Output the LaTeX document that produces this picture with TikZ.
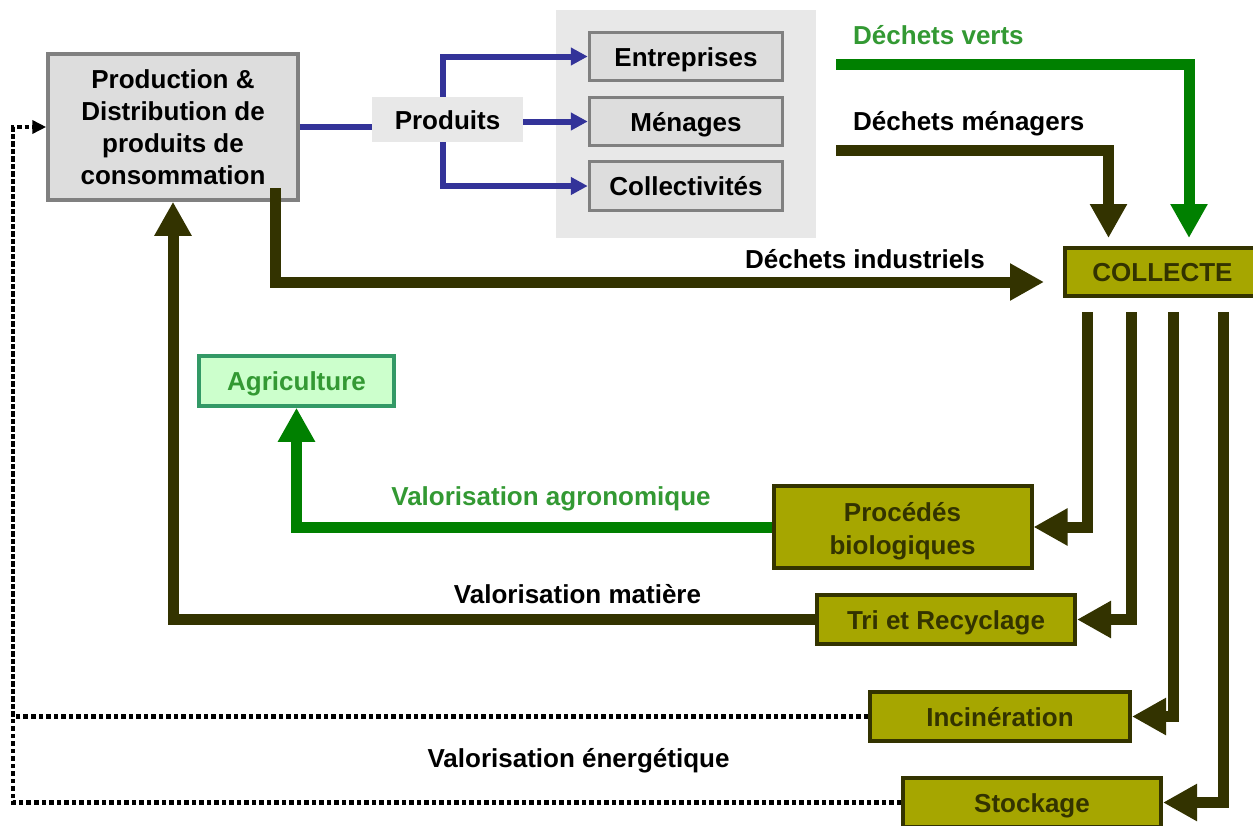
\documentclass[tikz,border=0pt]{standalone}
\usepackage{fontspec}
\setmainfont{Liberation Sans}
\usetikzlibrary{arrows.meta}
\definecolor{olv}{HTML}{333300}
\definecolor{olvfill}{HTML}{A6A600}
\definecolor{grn}{HTML}{008000}
\definecolor{grntxt}{HTML}{339933}
\definecolor{agrfill}{HTML}{CCFFCC}
\definecolor{agrdraw}{HTML}{339966}
\definecolor{blu}{HTML}{333399}
\definecolor{bxfill}{HTML}{DDDDDD}
\definecolor{bxdraw}{HTML}{808080}
\definecolor{bgfill}{HTML}{E8E8E8}
\begin{document}
\begin{tikzpicture}[x=1pt,y=-1pt,
  txt/.style={font=\fontsize{26}{31}\selectfont\bfseries, inner sep=0pt},
  one/.style={text height=19pt, text depth=0pt},
  gbox/.style={txt, draw=bxdraw, fill=bxfill, line width=3.5pt, align=center},
  obox/.style={txt, draw=olv, fill=olvfill, text=olv, line width=4pt, align=center},
  oarr/.style={draw=olv, line width=11pt, -{Triangle[width=35pt,length=34pt]}},
  garr/.style={draw=grn, line width=11pt, -{Triangle[width=35pt,length=34pt]}},
  barr/.style={draw=blu, line width=6pt, -{Triangle[width=17pt,length=17pt]}},
  bline/.style={draw=blu, line width=6pt},
  dotl/.style={draw=black, line width=4.5pt, dash pattern=on 4.5pt off 3pt},
  lbl/.style={txt, one}]
\useasboundingbox (0,0) rectangle (1253,825);
% background region
\node[fill=bgfill, minimum width=260pt, minimum height=228pt, inner sep=0pt] (bg) at (686,124) {};
% nodes
\node[gbox, minimum width=250pt, minimum height=146pt, font=\fontsize{26}{32}\selectfont\bfseries] (prod) at (173,127) {Production \&\\Distribution de\\produits de\\consommation};
\node[txt, one, fill=bgfill, minimum width=151pt, minimum height=45pt] (prd) at (447.5,119.5) {Produits};
\node[gbox, one, minimum width=193pt, minimum height=48pt] (ent) at (686,56.5) {Entreprises};
\node[gbox, one, minimum width=193pt, minimum height=48pt] (men) at (686,121.5) {Ménages};
\node[gbox, one, minimum width=193pt, minimum height=49pt] (clv) at (686,186) {Collectivités};
\node[obox, one, minimum width=195pt, minimum height=48pt] (col) at (1162.5,272) {COLLECTE};
\node[obox, minimum width=258pt, minimum height=82pt, font=\fontsize{26}{33}\selectfont\bfseries] (pb) at (902.5,527) {\raisebox{-4pt}[\height][\depth]{\begin{tabular}{@{}c@{}}Procédés\\biologiques\end{tabular}}};
\node[obox, one, minimum width=258pt, minimum height=49pt] (tri) at (946,619.5) {Tri et Recyclage};
\node[obox, one, minimum width=260pt, minimum height=49pt] (inc) at (1000,716.5) {Incinération};
\node[obox, one, minimum width=258pt, minimum height=49pt] (stk) at (1032,802.5) {Stockage};
\node[txt, one, draw=agrdraw, fill=agrfill, text=grntxt, line width=3.5pt, minimum width=195pt, minimum height=50pt] (agr) at (296.5,381) {Agriculture};
% labels
\node[lbl, text=grntxt, anchor=west] (ldv) at (853,35) {Déchets verts};
\node[lbl, anchor=west] (ldm) at (853,121) {Déchets ménagers};
\node[lbl] (ldi) at (865,259) {Déchets industriels};
\node[lbl, text=grntxt] (lva) at (551,496) {Valorisation agronomique};
\node[lbl] (lvm) at (577.5,594) {Valorisation matière};
\node[lbl] (lve) at (578.5,758) {Valorisation énergétique};
% coordinates
\coordinate (dvs) at (836,64);
\coordinate (dms) at (836,150);
\coordinate (vx) at (1189,0);
\coordinate (mx) at (1108.5,0);
\coordinate (dix) at (275.5,188);
\coordinate (diy) at (0,282);
\coordinate (c1) at (1087,312);
\coordinate (c2) at (1131,312);
\coordinate (c3) at (1173,312);
\coordinate (c4) at (1223,312);
\coordinate (ex) at (13,127);
\coordinate (bx) at (443,0);
% blue connectors
\draw[bline] (prod.east) -- (prd.west |- prod.east);
\draw[barr] (prd.north -| bx) |- (ent.west);
\draw[barr] (prd.east |- men.west) -- (men.west);
\draw[barr] (prd.south -| bx) |- (clv.west);
% waste flows
\draw[garr, shorten >=8pt] (dvs) -| (col.north -| vx);
\draw[oarr, shorten >=8pt] (dms) -| (col.north -| mx);
\draw[oarr, shorten >=19pt] (dix) |- (col.west |- diy);
\draw[oarr] (c1) |- (pb.east);
\draw[oarr] (c2) |- (tri.east);
\draw[oarr] (c3) |- (inc.east);
\draw[oarr] (c4) |- (stk.east);
\draw[garr] (pb.west) -| (agr.south);
\draw[oarr] (tri.west) -| (prod.south);
\draw[dotl] (inc.west) -| (ex);
\draw[dotl, -{Triangle[width=13pt,length=14pt]}] (stk.west) -| (ex) -- (prod.west);
\end{tikzpicture}
\end{document}
